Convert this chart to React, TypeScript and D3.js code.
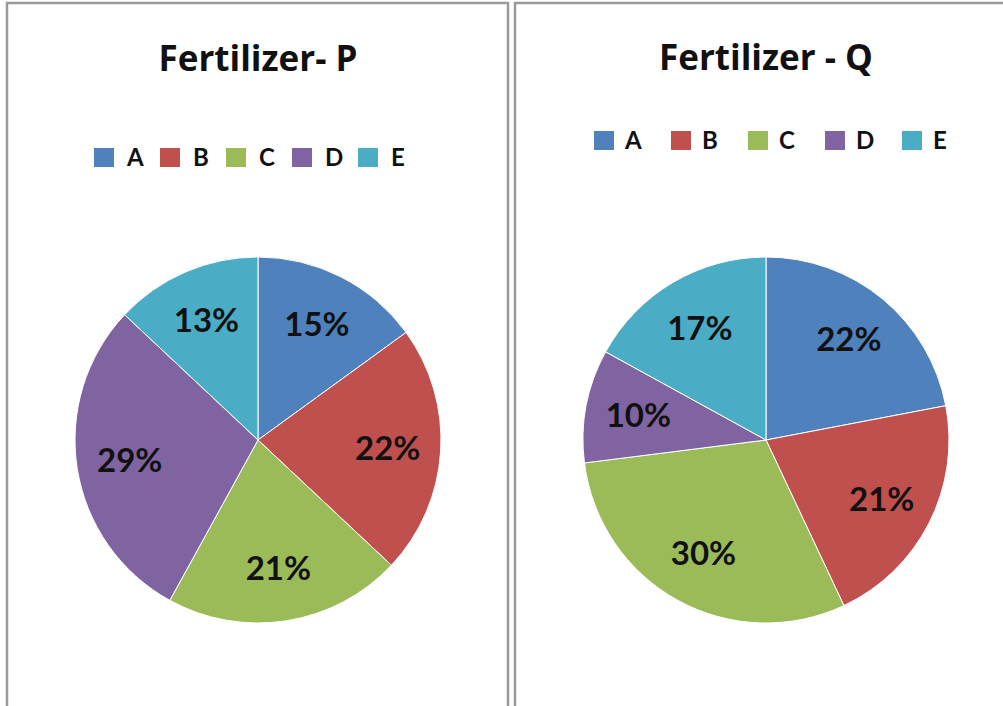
import * as d3 from "d3";

const categories = ["A", "B", "C", "D", "E"];
const colors = ["#4F81BD", "#C0504D", "#9BBB59", "#8064A2", "#4BACC6"];
const valuesP = [15, 22, 21, 29, 13];
const valuesQ = [22, 21, 30, 10, 17];

interface PanelProps {
  title: string;
  values: number[];
  x: number;
  cx: number;
  titleY: number;
  legendY: number;
  legendStart: number;
  legendStep: number;
  legendGap: number;
}

function PiePanel({ title, values, x, cx, titleY, legendY, legendStart, legendStep, legendGap }: PanelProps) {
  const radius = 183;
  const cy = 440;
  const pie = d3
    .pie<number>()
    .sort(null)
    .value((d) => d);
  const arcs = pie(values);
  const arc = d3.arc<d3.PieArcDatum<number>>().innerRadius(0).outerRadius(radius);
  const labelArc = d3
    .arc<d3.PieArcDatum<number>>()
    .innerRadius(radius * 0.71)
    .outerRadius(radius * 0.71);

  return (
    <g>
      <rect x={x} y={3} width={501} height={720} fill="#fff" stroke="#9a9a9a" strokeWidth={2.5} />
      <text
        x={cx}
        y={titleY}
        textAnchor="middle"
        fontFamily="'Open Sans', Lato, sans-serif"
        fontWeight="bold"
        fontSize={35}
        fill="#111"
      >
        {title}
      </text>
      {categories.map((c, i) => (
        <g key={c} transform={`translate(${legendStart + i * legendStep},${legendY})`}>
          <rect x={0} y={-10} width={20} height={19} fill={colors[i]} />
          <text
            x={legendGap}
            y={8}
            fontFamily="Lato, 'Open Sans', sans-serif"
            fontWeight="bold"
            fontSize={24}
            fill="#111"
          >
            {c}
          </text>
        </g>
      ))}
      <g transform={`translate(${cx},${cy})`}>
        {arcs.map((a, i) => (
          <path key={i} d={arc(a) ?? ""} fill={colors[i]} stroke="#fff" strokeWidth={1} />
        ))}
        {arcs.map((a, i) => {
          const [lx, ly] = labelArc.centroid(a);
          return (
            <text
              key={i}
              x={lx}
              y={ly}
              dy="0.35em"
              textAnchor="middle"
              fontFamily="Lato, 'Open Sans', sans-serif"
              fontWeight="bold"
              fontSize={33}
              fill="#111"
            >
              {`${values[i]}%`}
            </text>
          );
        })}
      </g>
    </g>
  );
}

export default function App() {
  return (
    <div style={{ position: "fixed", left: 0, top: 0 }}>
      <svg width={1003} height={706} style={{ display: "block", background: "#fff" }}>
        <PiePanel
          title="Fertilizer- P"
          values={valuesP}
          x={7}
          cx={258}
          titleY={71}
          legendY={158}
          legendStart={94}
          legendStep={66}
          legendGap={33}
        />
        <PiePanel
          title="Fertilizer - Q"
          values={valuesQ}
          x={515}
          cx={766}
          titleY={70}
          legendY={141}
          legendStart={594}
          legendStep={77}
          legendGap={31}
        />
      </svg>
    </div>
  );
}
